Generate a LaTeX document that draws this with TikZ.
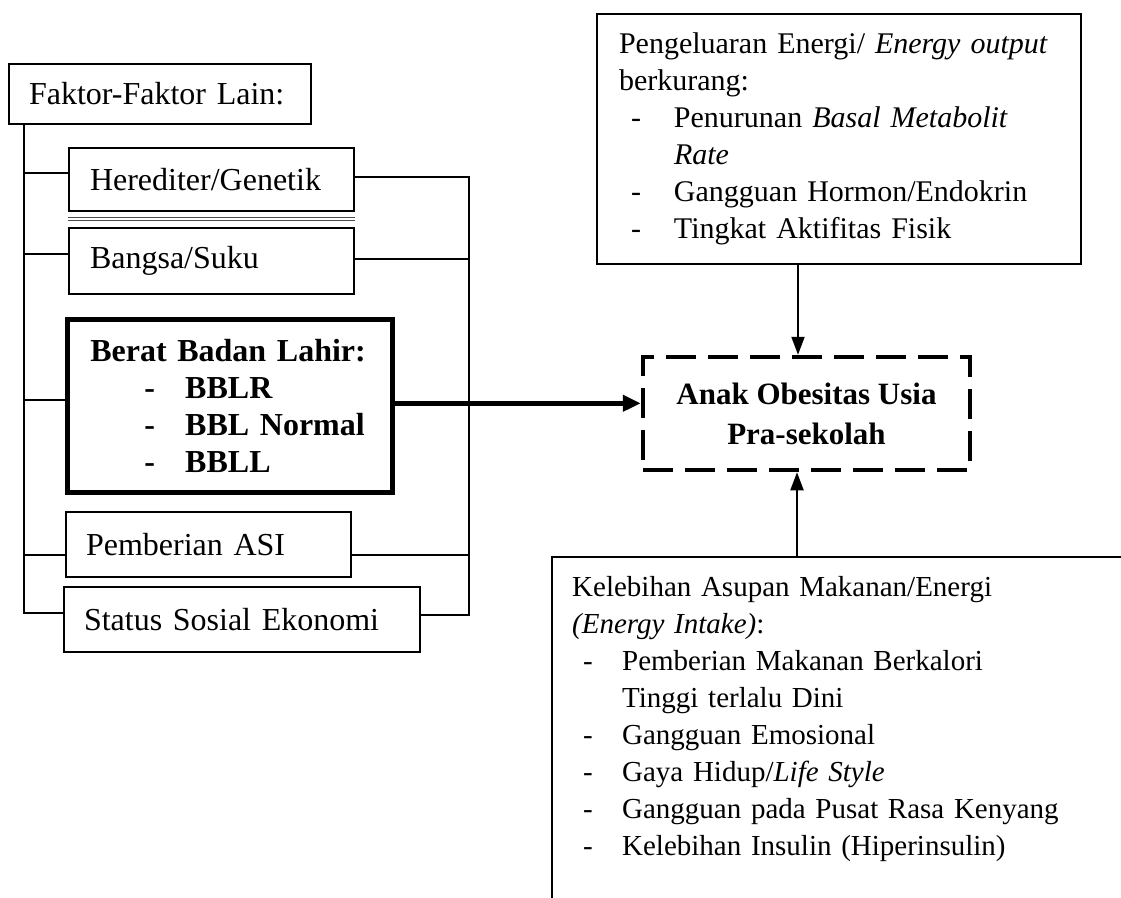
\documentclass[tikz,border=0pt]{standalone}
\usepackage{fontspec}
\setmainfont{Liberation Serif}
\usetikzlibrary{arrows.meta,calc}
\newcommand\lfont{\fontsize{32}{37}\selectfont}
\newcommand\tfont{\fontsize{30}{37}\selectfont}
\newcommand\bfont{\fontsize{29}{37}\selectfont}
\newcommand\cfont{\fontsize{31}{40}\selectfont}
\newcommand\itm[2]{\hspace*{#1}\makebox[#2][l]{-}}
\tikzset{
  conn/.style={line width=2pt},
  lbox/.style={draw, line width=2pt, anchor=north west, inner ysep=0pt, align=left, font=\lfont},
  bigbox/.style={draw, line width=4.5pt, anchor=north west, inner ysep=0pt, align=left, font=\lfont\bfseries},
  textbox/.style={draw, line width=2pt, anchor=north west, inner ysep=0pt, align=left},
  target/.style={draw, line width=4.5pt, dash pattern=on 30pt off 12pt, align=center, font=\cfont\bfseries, inner sep=0pt},
  arr/.style={line width=2pt, -{Triangle[length=18pt,width=13pt]}},
  thickarr/.style={line width=5pt, -{Triangle[length=18pt,width=16pt]}},
  ghost/.style={line width=0.9pt, black!70}
}
\begin{document}
\begin{tikzpicture}[x=1pt,y=-1pt]
\clip (0,0) rectangle (1121,897);
\fill[white] (0,0) rectangle (1121,897);

% left column
\node[lbox, inner xsep=20pt, text width=262pt, minimum height=60pt] (faktor) at (8,63) {Faktor-Faktor Lain:};
\node[lbox, inner xsep=21pt, text width=243pt, minimum height=63pt] (hered) at (68,147) {Herediter/Genetik};
\node[lbox, inner xsep=21pt, text width=243pt, minimum height=66pt] (bangsa) at (68,227) {Bangsa/Suku};
\node[bigbox, inner xsep=23pt, text width=279pt, minimum height=173pt] (berat) at (65,317)
  {Berat Badan Lahir:\\\itm{54pt}{41pt}BBLR\\\itm{54pt}{41pt}BBL Normal\\\itm{54pt}{41pt}BBLL};
\node[lbox, inner xsep=20pt, text width=245pt, minimum height=65pt] (asi) at (65,511) {Pemberian ASI};
\node[lbox, inner xsep=20pt, text width=316pt, minimum height=65pt] (status) at (63,586) {Status Sosial Ekonomi};

\draw[ghost] ([yshift=-5pt]hered.south west) -- ([yshift=-5pt]hered.south east);
\draw[ghost] ([yshift=-8pt]hered.south west) -- ([yshift=-8pt]hered.south east);

% target
\node[target, minimum width=327pt, minimum height=113pt] (obes) at (806.5,413.5) {Anak Obesitas Usia\\Pra-sekolah};

% energy output box
\node[textbox, inner xsep=22pt, text width=440pt, minimum height=250pt, font=\tfont] (eout) at (596,13)
  {\mbox{Pengeluaran Energi/ \textit{Energy output}}\\
   berkurang:\\
   \itm{12pt}{43pt}Penurunan \textit{Basal Metabolit}\\
   \hspace*{55pt}\textit{Rate}\\
   \itm{12pt}{43pt}Gangguan Hormon/Endokrin\\
   \itm{12pt}{43pt}Tingkat Aktifitas Fisik};

% energy intake box (runs off the page)
\node[anchor=north west, inner xsep=20pt, inner ysep=0pt, text width=540pt, minimum height=324pt, align=left, font=\bfont] (intake) at (552,557)
  {Kelebihan Asupan Makanan/Energi\\
   \textit{(Energy Intake)}:\\
   \itm{11pt}{39pt}Pemberian Makanan Berkalori\\
   \hspace*{50pt}Tinggi terlalu Dini\\
   \itm{11pt}{39pt}Gangguan Emosional\\
   \itm{11pt}{39pt}Gaya Hidup/\textit{Life Style}\\
   \itm{11pt}{39pt}Gangguan pada Pusat Rasa Kenyang\\
   \itm{11pt}{39pt}Kelebihan Insulin (Hiperinsulin)};
\draw[conn] (intake.north east) -- (intake.north west) -- ([yshift=-40pt]intake.south west);

% left bus
\coordinate (lb) at ([xshift=16pt]faktor.south west);
\coordinate (hL) at ([yshift=6.5pt]hered.west);
\coordinate (gL) at ([yshift=7pt]bangsa.west);
\coordinate (bL) at ([yshift=5.5pt]berat.west);
\coordinate (aL) at ([yshift=-10pt]asi.west);
\coordinate (sL) at ([yshift=6.5pt]status.west);
\draw[conn] (lb) |- (sL);
\draw[conn] (hL) -- (hL -| lb);
\draw[conn] (gL) -- (gL -| lb);
\draw[conn] (bL) -- (bL -| lb);
\draw[conn] (aL) -- (aL -| lb);

% right bus
\coordinate (rx) at ([xshift=114pt]hered.east);
\coordinate (hR) at ([yshift=2.5pt]hered.east);
\coordinate (gR) at ([yshift=2pt]bangsa.east);
\coordinate (aR) at ([yshift=-10pt]asi.east);
\coordinate (sR) at ([yshift=4.5pt]status.east);
\draw[conn] (hR) -- (hR -| rx) -- (sR -| rx) -- (sR);
\draw[conn] (gR) -- (gR -| rx);
\draw[conn] (aR) -- (aR -| rx);

% arrows into target
\coordinate (bA) at ([yshift=2.5pt]berat.east);
\draw[thickarr] (bA) -- (bA -| obes.west);
\coordinate (ta) at ([xshift=-8.5pt]obes.north);
\draw[arr] (ta |- eout.south) -- (ta);
\coordinate (ba) at ([xshift=-9.5pt]obes.south);
\draw[arr] (ba |- intake.north) -- (ba);
\end{tikzpicture}
\end{document}
